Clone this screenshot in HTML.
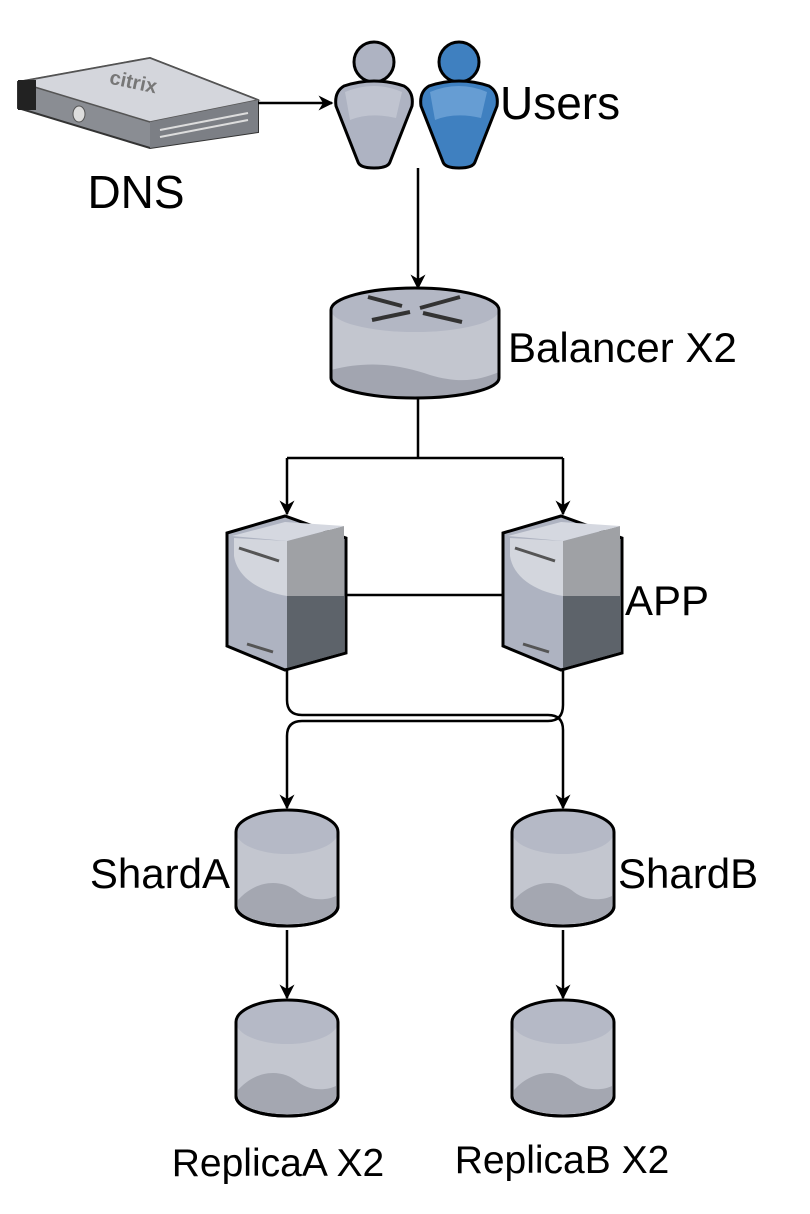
<!DOCTYPE html>
<html><head><meta charset="utf-8"><style>
html,body{margin:0;padding:0;background:#fff;}
svg{display:block}
text{font-family:"Liberation Sans",Arial,sans-serif;font-size:42px;fill:#000}
</style></head><body>
<svg width="810" height="1214" viewBox="0 0 810 1214" xmlns="http://www.w3.org/2000/svg">
<defs>
<marker id="ar" viewBox="0 0 10 10" refX="9" refY="5" markerWidth="15" markerHeight="15" orient="auto" markerUnits="userSpaceOnUse">
<path d="M0,0 L10,5 L0,10 L3,5 z" fill="#000"/></marker>
<g id="cyl">
<path d="M0,22 L0,96 A51,20 0 0 0 102,96 L102,22" fill="#c3c6cf" stroke="#000" stroke-width="3"/>
<path d="M2,90 C20,70 45,68 62,82 C75,92 92,90 100,86 L100,96 A49,18 0 0 1 2,96 z" fill="#a4a7b1"/>
<ellipse cx="51" cy="22" rx="51" ry="22" fill="#b5b9c6"/>
<path d="M0,22 L0,96 A51,20 0 0 0 102,96 L102,22 A51,22 0 0 0 0,22" fill="none" stroke="#000" stroke-width="3"/>
</g>
<g id="srv">
<path d="M0,17 L58,0 L119,22 L119,137 L58,154 L0,130 z" fill="#aeb3c1" stroke="#000" stroke-width="3"/>
<path d="M60,25 L117,10 L117,80 L60,80 z" fill="#9fa1a5"/>
<path d="M60,80 L117,80 L117,136 L60,152 z" fill="#5d636a"/>
<path d="M5,20 L58,6 L117,10 L60,25 z" fill="#d5d8e0"/>
<path d="M7,22 L60,25 L60,80 C30,75 10,60 7,40 z" fill="#d3d6dd"/>
<line x1="12" y1="32" x2="52" y2="45" stroke="#555" stroke-width="3"/>
<line x1="20" y1="128" x2="46" y2="136" stroke="#555" stroke-width="3"/>
</g>
<g id="person">
<circle cx="40" cy="22" r="20" stroke="#000" stroke-width="3"/>
<path d="M10,46 Q40,36 70,46 Q80,52 78,66 L56,122 Q54,128 40,128 Q26,128 24,122 L2,66 Q0,52 10,46 z" stroke="#000" stroke-width="3"/>
</g>
</defs>

<!-- DNS device -->
<path d="M18,82 L150,58 L258,100 L258,132 L150,148 L18,108 z" fill="#8a8d93" stroke="#333" stroke-width="2"/>
<path d="M18,82 L150,58 L258,100 L150,122 z" fill="#d4d6dc" stroke="#555" stroke-width="1.5"/>
<path d="M150,122 L258,100 L258,132 L150,148 z" fill="#7c7f85"/>
<rect x="18" y="80" width="18" height="30" fill="#222"/>
<ellipse cx="79" cy="114" rx="6" ry="8" fill="#ddd" stroke="#555"/>
<line x1="160" y1="130" x2="248" y2="113" stroke="#ddd" stroke-width="2"/>
<line x1="160" y1="137" x2="248" y2="120" stroke="#ddd" stroke-width="2"/>
<text x="110" y="90" style="font-size:20px;font-weight:bold;fill:#777" transform="rotate(12 140 80)">citrix</text>
<text x="136" y="208" text-anchor="middle" style="font-size:46px">DNS</text>
<line x1="258" y1="103" x2="332" y2="103" stroke="#000" stroke-width="2.5" marker-end="url(#ar)"/>

<!-- Users -->
<g transform="translate(334,40)" fill="#aeb3c2"><use href="#person"/></g>
<g transform="translate(419,40)" fill="#3f80c0"><use href="#person"/></g>
<path d="M345,92 Q374,80 402,92 L396,118 Q370,112 350,120 z" fill="#c8ccd6" opacity="0.7"/>
<path d="M430,92 Q459,80 487,92 L481,118 Q455,112 435,120 z" fill="#78a9dc" opacity="0.7"/>
<text x="500" y="119" style="font-size:46px">Users</text>
<line x1="418" y1="168" x2="418" y2="288" stroke="#000" stroke-width="2.5" marker-end="url(#ar)"/>

<!-- Router -->
<path d="M331,310 L331,378 A84,20 0 0 0 499,378 L499,310" fill="#c3c6cf"/>
<path d="M331,370 C370,360 400,365 430,375 C460,384 480,380 499,372 L499,378 A84,20 0 0 1 331,378 z" fill="#a2a5b0"/>
<ellipse cx="415" cy="310" rx="84" ry="22" fill="#b3b7c4"/>
<path d="M331,310 L331,378 A84,20 0 0 0 499,378 L499,310 A84,22 0 0 0 331,310" fill="none" stroke="#000" stroke-width="3"/>
<g stroke="#333" stroke-width="4" fill="#333">
<line x1="368" y1="297" x2="402" y2="306"/><line x1="420" y1="308" x2="460" y2="297"/>
<line x1="410" y1="312" x2="372" y2="320"/><line x1="423" y1="313" x2="462" y2="322"/>
</g>
<text x="508" y="362">Balancer X2</text>
<path d="M418,398 L418,458 M287,458 L563,458" stroke="#000" stroke-width="2.5" fill="none"/>
<line x1="287" y1="458" x2="287" y2="514" stroke="#000" stroke-width="2.5" marker-end="url(#ar)"/>
<line x1="563" y1="458" x2="563" y2="514" stroke="#000" stroke-width="2.5" marker-end="url(#ar)"/>

<!-- Servers -->
<g transform="translate(227,516)"><use href="#srv"/></g>
<g transform="translate(503,516)"><use href="#srv"/></g>
<line x1="346" y1="595" x2="503" y2="595" stroke="#000" stroke-width="2.5"/>
<text x="625" y="615">APP</text>

<path d="M287,670 L287,700 Q287,715 302,715 L548,715 Q563,715 563,730 L563,808" stroke="#000" stroke-width="2.5" fill="none" marker-end="url(#ar)"/>
<path d="M563,670 L563,705 Q563,721 548,721 L302,721 Q287,721 287,736 L287,808" stroke="#000" stroke-width="2.5" fill="none" marker-end="url(#ar)"/>

<!-- Cylinders -->
<g transform="translate(236,810)"><use href="#cyl"/></g>
<g transform="translate(512,810)"><use href="#cyl"/></g>
<text x="230" y="888" text-anchor="end">ShardA</text>
<text x="618" y="888">ShardB</text>
<line x1="287" y1="930" x2="287" y2="998" stroke="#000" stroke-width="2.5" marker-end="url(#ar)"/>
<line x1="563" y1="930" x2="563" y2="998" stroke="#000" stroke-width="2.5" marker-end="url(#ar)"/>
<g transform="translate(236,1000)"><use href="#cyl"/></g>
<g transform="translate(512,1000)"><use href="#cyl"/></g>
<text x="278" y="1176" text-anchor="middle" style="font-size:39px">ReplicaA X2</text>
<text x="562" y="1173" text-anchor="middle" style="font-size:39px">ReplicaB X2</text>
</svg>
</body></html>
